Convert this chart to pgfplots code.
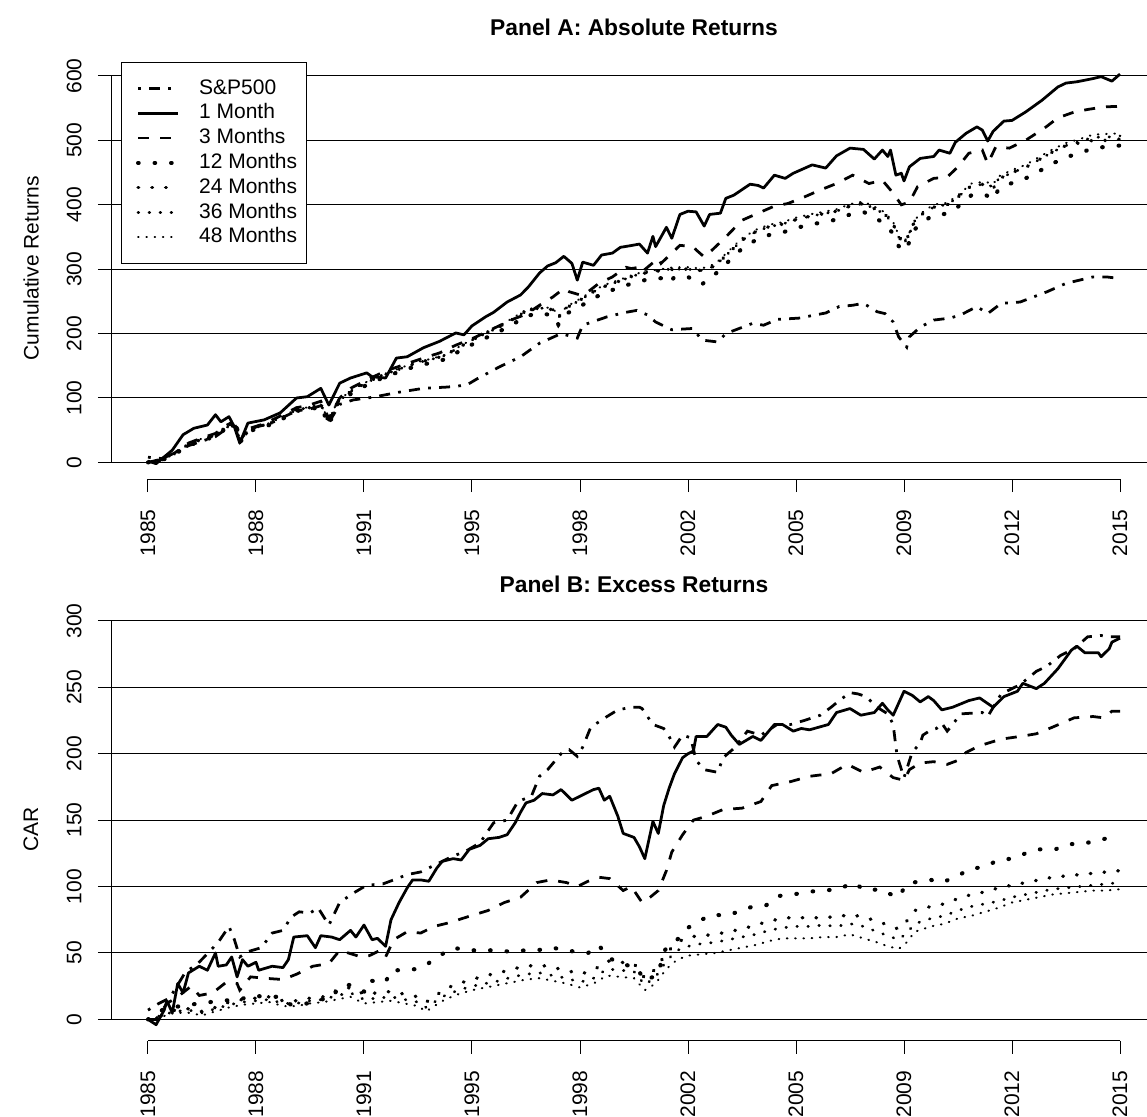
\documentclass[border=0pt]{standalone}
\usepackage{fontspec}
\setmainfont{Liberation Sans}
\usepackage{pgfplots}
\pgfplotsset{compat=1.18}
\usepackage{pgfplotstable}
\newcommand{\fs}{\fontsize{10.5}{12.6}\selectfont}

% ---------------- Panel A data ----------------
\pgfplotstableread{
m v
0 2
3 -2
9 19
13 43
17 53
22 58
25 74
27 63
30 71
32 55
34 30
37 61
43 66
49 77
55 100
59 102
64 115
67 89
71 123
75 131
81 139
83 133
88 131
92 162
96 164
102 178
108 188
114 201
117 198
120 212
125 226
128 233
133 249
138 260
141 273
145 294
148 305
151 310
154 320
157 309
159 283
161 311
165 306
168 322
172 325
175 334
178 336
182 339
185 325
187 351
188 335
192 365
194 348
197 385
200 390
203 389
206 367
208 385
212 387
214 410
217 415
223 432
226 430
228 426
232 446
236 441
239 449
246 462
251 457
255 476
260 488
265 486
269 471
272 485
274 475
275 485
277 446
279 449
280 437
282 459
286 472
291 475
293 485
297 480
299 497
303 511
307 521
309 516
311 499
313 514
317 530
320 531
325 544
331 562
337 583
340 589
344 591
350 596
353 599
357 592
360 603
}\Aone

\pgfplotstableread{
m v
0 0
5 5
10 15
15 30
20 38
25 45
28 55
31 62
34 33
37 52
43 60
49 72
55 85
59 88
64 95
67 68
71 100
75 115
81 128
88 142
95 152
102 162
108 170
114 182
120 192
125 202
130 212
135 222
140 230
145 244
150 257
154 270
156 265
160 260
163 265
167 278
172 288
177 303
179 301
182 303
183 296
189 317
190 309
197 337
202 335
203 330
206 319
209 330
214 350
220 376
226 387
232 398
237 402
243 412
249 423
255 433
261 446
267 433
272 438
276 418
279 400
282 404
285 428
291 441
296 443
300 459
304 480
309 485
311 464
314 490
319 488
325 500
332 519
337 535
343 544
348 548
354 552
360 553
}\Athree

\pgfplotstableread{
m v
0 8
5 6
10 14
15 26
20 33
25 40
30 55
32 58
34 32
37 48
40 55
45 60
50 70
55 80
60 83
64 88
67 62
71 90
76 97
83 101
93 109
102 115
111 117
118 120
122 130
130 148
138 164
145 185
153 200
159 193
161 213
170 226
177 233
181 236
185 229
188 218
194 206
202 208
205 190
211 187
214 200
219 208
224 216
228 213
233 222
241 224
251 232
256 242
261 244
265 247
270 234
273 231
276 218
278 195
281 179
282 195
286 210
291 221
297 224
301 229
307 242
311 231
316 247
323 249
328 257
333 265
340 278
345 283
350 288
355 288
359 286
360 288
}\Asp

\pgfplotstableread{
m a12 a24 a36 a48
0 0 0 0 0
5 3 4 4 5
10 13 14 14 15
15 26 28 28 29
20 34 36 36 37
25 40 42 42 43
28 50 52 52 53
31 56 58 58 59
33 53 55 55 56
34 30 32 32 33
36 43 45 45 46
40 53 55 55 56
45 58 60 60 61
50 68 70 70 71
55 80 82 82 83
60 82 85 85 86
64 87 90 90 91
67 58 62 63 64
70 90 93 93 94
75 106 110 110 111
80 118 122 122 123
85 128 132 132 133
90 136 140 140 141
95 144 148 148 149
100 150 155 155 156
105 155 160 160 161
110 160 166 166 167
115 172 178 178 179
120 183 190 190 191
125 193 200 200 202
130 203 210 210 212
135 214 222 222 224
140 227 235 235 237
145 232 240 240 242
150 228 237 237 239
152 214 225 225 227
155 231 240 240 242
160 242 252 252 254
165 255 265 265 267
170 265 275 275 277
175 272 282 282 284
180 279 290 290 292
185 284 295 295 297
190 286 298 298 300
193 278 299 300 302
195 288 300 300 303
200 288 300 300 303
205 276 298 298 301
210 292 305 305 308
215 312 325 325 328
220 332 345 345 348
225 345 358 358 361
230 353 366 366 369
235 357 370 370 373
240 364 377 377 380
245 369 382 382 385
250 373 386 386 389
255 377 390 390 393
260 385 398 398 401
265 389 402 402 405
270 378 392 392 395
273 370 385 385 388
276 355 370 370 373
278 336 350 350 353
280 328 340 340 342
282 342 355 355 357
284 362 375 375 377
288 377 390 390 393
292 385 398 398 401
296 386 400 400 403
300 397 412 412 415
305 415 430 430 433
310 416 432 432 436
313 408 425 428 432
315 424 440 440 444
320 434 450 450 454
325 441 458 458 462
330 452 470 470 474
335 464 482 482 486
340 474 492 492 496
345 480 496 498 502
350 488 500 505 509
355 490 500 505 510
360 492 502 507 511
}\Acl

% ---------------- Panel B data ----------------
\pgfplotstableread{
m v
0 0
3 -4
6 7
7 14
9 5
11 27
13 20
15 35
19 40
22 37
25 50
26 40
29 41
31 47
33 32
35 45
37 40
40 43
41 37
46 40
50 39
52 45
54 62
59 63
62 54
64 63
68 62
71 60
75 67
77 62
80 71
83 60
85 61
88 55
90 75
93 88
96 99
98 105
101 105
104 104
107 114
109 119
113 121
116 120
119 128
123 131
126 136
130 137
133 139
136 148
138 156
140 163
143 165
146 170
150 169
153 173
157 165
161 169
165 173
167 174
169 165
171 168
174 153
176 140
180 137
182 130
184 121
187 149
189 140
191 161
193 174
195 185
198 197
200 200
202 202
203 213
207 213
211 222
214 220
216 214
219 207
224 213
227 210
232 222
235 222
239 217
242 219
245 218
252 222
255 231
260 234
264 229
269 231
272 238
274 233
276 229
280 247
283 244
286 239
289 243
291 240
294 233
298 235
304 240
308 242
313 235
317 243
322 247
324 253
329 249
332 253
337 264
342 278
344 281
347 276
352 276
353 273
356 279
357 284
360 287
}\Bone

\pgfplotstableread{
m v
0 0
3 0
7 12
11 17
16 25
19 18
24 20
29 28
33 27
34 22
38 32
43 31
50 30
55 34
61 40
67 42
71 52
79 47
82 48
86 52
88 47
91 60
96 66
101 65
106 70
112 73
118 77
126 82
132 88
138 92
144 103
149 105
155 103
159 100
163 104
167 107
171 106
176 97
179 100
183 88
186 92
189 97
192 112
194 126
198 139
202 150
207 153
213 158
220 159
227 164
231 176
238 179
245 183
253 185
259 192
265 186
271 190
276 182
280 180
282 188
286 193
291 194
296 192
300 195
303 201
308 206
316 211
323 213
329 215
335 220
343 227
350 228
354 227
357 232
360 232
}\Bthree

\pgfplotstableread{
m v
0 7
4 12
8 16
14 36
18 41
26 58
30 70
32 60
34 47
37 51
42 54
46 65
50 67
53 77
56 81
60 80
63 84
67 71
71 88
76 95
81 101
87 102
91 105
96 109
101 111
106 116
112 122
118 127
123 133
128 148
133 150
137 164
142 168
145 183
148 188
153 200
156 203
159 198
161 205
164 220
170 228
174 233
179 235
182 235
183 234
187 222
191 219
193 213
195 205
198 214
201 212
203 195
206 188
211 186
213 197
217 204
222 217
227 214
233 222
238 222
243 225
249 229
253 235
256 240
260 246
263 245
266 243
270 235
274 230
276 222
277 205
277.5 198
280 182
283 201
286 208
287 214
290 218
292 219
294 223
296 217
298 222
301 230
309 231
311 228
316 245
323 252
329 262
333 266
338 274
343 279
348 288
353 289
356 288
360 288
}\Bsp

\pgfplotstableread{
m v
0 0
6 8
12 10
19 12
27 14
34 15
39 18
43 17
48 17
53 11
59 12
64 15
68 16
71 25
75 26
81 20
83 29
88 28
90 37
94 37
100 38
103 41
108 48
113 54
118 52
124 52
129 52
134 51
140 52
144 52
150 54
154 52
163 50
167 56
170 47
175 42
181 39
184 29
187 32
189 34
191 51
193 56
196 60
200 69
205 75
209 79
214 78
220 82
224 85
229 86
234 93
239 94
244 96
250 97
256 98
261 103
266 97
271 98
274 95
278 92
281 102
286 104
290 105
294 103
300 108
304 113
310 115
315 120
320 121
325 125
330 128
336 128
341 132
346 132
352 135
357 137
360 138
}\Btwelve

\pgfplotstableread{
m b24 b36 b48
0 0 0 0
5 3 3 2
10 7 6 5
15 8 7 5
20 6 5 3
25 9 8 6
30 13 11 9
35 15 13 11
40 16 14 12
45 17 15 13
50 14 12 10
55 14 12 10
60 16 14 12
65 17 15 13
70 22 18 15
75 24 20 17
80 19 15 12
85 20 16 13
90 21 17 14
95 19 15 12
100 17 13 10
103 13 9 6
106 17 13 10
110 23 18 15
115 27 22 19
120 30 25 22
125 33 27 24
130 35 29 26
135 38 32 28
140 40 34 30
145 41 35 31
150 39 33 29
155 37 31 27
160 34 28 24
165 37 31 27
170 44 38 33
175 43 37 32
180 42 36 31
184 31 26 22
188 38 32 27
192 50 44 38
196 58 52 45
200 62 55 48
205 63 57 49
210 64 58 50
215 66 60 52
220 68 62 54
225 71 64 56
230 74 67 59
235 76 69 61
240 77 70 61
245 76 70 61
250 77 71 62
255 77 70 62
260 79 72 64
265 77 70 61
270 74 66 58
274 71 63 55
278 68 60 53
281 74 65 58
284 82 72 66
290 85 76 70
295 87 78 72
300 91 82 76
305 94 85 78
310 96 87 81
315 99 89 84
320 101 92 88
325 103 94 90
330 105 96 92
335 107 98 94
340 108 99 95
345 109 100 96
350 110 101 97
355 111 102 97
360 112 103 98
}\Bcl

\tikzset{
  ssp/.style={black, line width=1.38pt, dash pattern=on 1.375pt off 4.125pt on 5.5pt off 4.125pt},
  sm1/.style={black, line width=1.38pt, line join=round},
  sm3/.style={black, line width=1.38pt, dash pattern=on 5.5pt off 5.5pt},
  sm12/.style={black, line width=2.07pt, line cap=round, dash pattern=on 0.3pt off 7.95pt},
  sm24/.style={black, line width=1.72pt, line cap=round, dash pattern=on 0.3pt off 6.6pt},
  sm36/.style={black, line width=1.38pt, line cap=round, dash pattern=on 0.3pt off 5.2pt},
  sm48/.style={black, line width=1.03pt, line cap=round, dash pattern=on 0.3pt off 3.83pt},
}

\pgfplotsset{
  rstyle/.style={
    scale only axis, width=518pt, height=211pt,
    xmin=-13.7, xmax=370,
    axis lines*=left, axis line style={draw=none},
    tick align=outside, major tick length=6.5pt,
    tick style={black, line width=0.5pt},
    xtick={0,40,...,360},
    xticklabels={1985,1988,1991,1995,1998,2002,2005,2009,2012,2015},
    ymajorgrids, major grid style={black, line width=0.5pt},
    xticklabel style={rotate=90, anchor=east, inner sep=0pt, font=\fs},
    yticklabel style={rotate=90, anchor=south, inner sep=0pt, font=\fs},
    xticklabel shift=8.5pt,
    yticklabel shift=8pt,
    /pgf/number format/assume math mode=true,
    clip=false,
    no markers,
  },
}

\begin{document}
\begin{tikzpicture}
\useasboundingbox (0,0) rectangle (573.5pt,558pt);

% Panel A
\begin{axis}[rstyle,
  at={(55.5pt,318.5pt)}, anchor=south west,
  ymin=-25.8, ymax=629.5,
  ytick={0,100,...,600},
  legend cell align=left,
  legend image code/.code={\path (0pt,0pt); \draw[#1] (2.5pt,0pt) -- (22.5pt,0pt);},
  legend style={at={(rel axis cs:0,1)}, anchor=north west, xshift=5pt, yshift=-2.5pt,
    font=\fs, draw=black, line width=0.5pt, fill=white,
    inner xsep=4.75pt, inner ysep=7.8pt, row sep=2pt,
    nodes={inner sep=0pt, text height=8pt, text depth=2.4pt, font=\fs},
    /tikz/every odd column/.append style={column sep=9.5pt}},
]
\addplot[ssp] table[x=m,y=v] {\Asp};
\addlegendentry{S\&P500}
\addplot[sm1] table[x=m,y=v] {\Aone};
\addlegendentry{1 Month}
\addplot[sm3] table[x=m,y=v] {\Athree};
\addlegendentry{3 Months}
\addplot[sm12] table[x=m,y=a12] {\Acl};
\addlegendentry{12 Months}
\addplot[sm24] table[x=m,y=a24] {\Acl};
\addlegendentry{24 Months}
\addplot[sm36] table[x=m,y=a36] {\Acl};
\addlegendentry{36 Months}
\addplot[sm48] table[x=m,y=a48] {\Acl};
\addlegendentry{48 Months}
\draw[line width=0.5pt] (axis cs:-13.7,0) -- (axis cs:-13.7,600);
\draw[line width=0.5pt] (axis cs:0,-25.8) -- (axis cs:360,-25.8);
\end{axis}

% Panel B
\begin{axis}[rstyle,
  at={(55.5pt,37.75pt)}, anchor=south west,
  ymin=-15.9, ymax=301.8,
  ytick={0,50,...,300},
]
\addplot[ssp] table[x=m,y=v] {\Bsp};
\addplot[sm1] table[x=m,y=v] {\Bone};
\addplot[sm3] table[x=m,y=v] {\Bthree};
\addplot[sm12] table[x=m,y=v] {\Btwelve};
\addplot[sm24] table[x=m,y=b24] {\Bcl};
\addplot[sm36] table[x=m,y=b36] {\Bcl};
\addplot[sm48] table[x=m,y=b48] {\Bcl};
\draw[line width=0.5pt] (axis cs:-13.7,0) -- (axis cs:-13.7,300);
\draw[line width=0.5pt] (axis cs:0,-15.9) -- (axis cs:360,-15.9);
\end{axis}

\node[font=\fontsize{11.4}{14}\selectfont\bfseries] at (317pt,544.5pt) {Panel A: Absolute Returns};
\node[font=\fontsize{11.4}{14}\selectfont\bfseries] at (317pt,266pt) {Panel B: Excess Returns};
\node[rotate=90, font=\fs] at (15.5pt,424pt) {Cumulative Returns};
\node[rotate=90, font=\fs] at (15.5pt,143.25pt) {CAR};
\end{tikzpicture}
\end{document}
